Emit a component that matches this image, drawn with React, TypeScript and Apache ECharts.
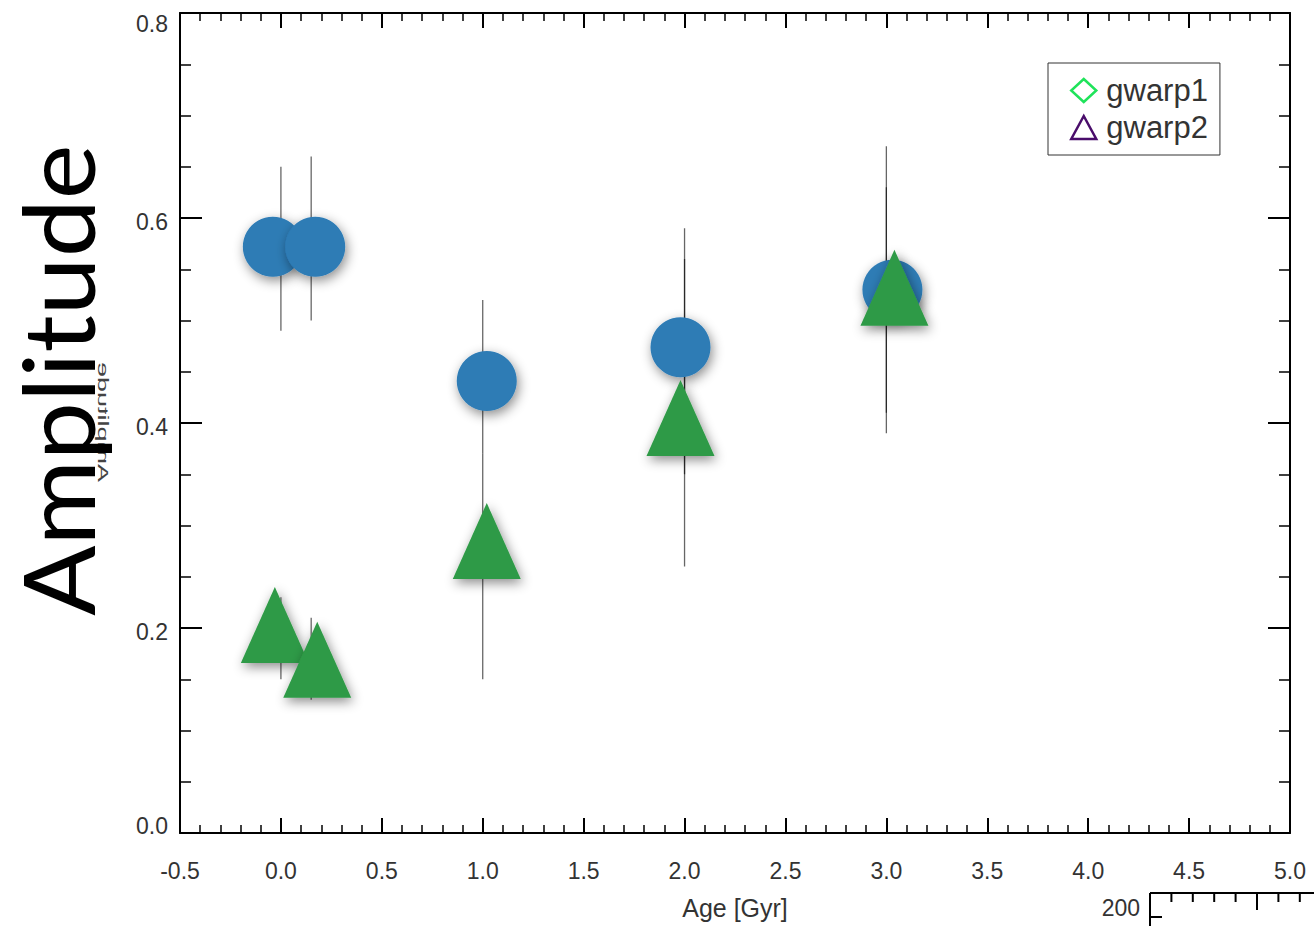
import React, { useEffect, useRef } from "react";
import * as echarts from "echarts";

// Age [Gyr] and amplitude of the blue circles
const circleAge = [-0.04, 0.17, 1.02, 1.98, 3.03];
const circleAmp = [0.572, 0.572, 0.441, 0.474, 0.53];
// Age [Gyr] and amplitude of the green triangles
const triangleAge = [-0.03, 0.18, 1.02, 1.98, 3.04];
const triangleAmp = [0.203, 0.169, 0.285, 0.405, 0.532];
// Error bars (vertical lines): age, low, high
const errAge = [0, 0, 0.15, 0.15, 1, 1, 2, 2, 3, 3];
const errLow = [0.49, 0.15, 0.5, 0.13, 0.37, 0.15, 0.26, 0.35, 0.39, 0.41];
const errHigh = [0.65, 0.23, 0.66, 0.21, 0.52, 0.37, 0.59, 0.56, 0.67, 0.63];
// Legend entries
const legendNames = ["gwarp1", "gwarp2"];
const yTitle = "Amplitude";
const xTitle = "Age [Gyr]";
const strayLabel = "200";

const FONT = "Liberation Sans, Arial, Helvetica, sans-serif";

function buildOption() {
  const axisLine = { show: true, onZero: false, lineStyle: { color: "#000", width: 2 } };
  const xCommon = {
    type: "value",
    min: -0.5,
    max: 5.0,
    interval: 0.5,
    axisLine,
    axisTick: { show: true, inside: true, length: 15, lineStyle: { color: "#000", width: 2 } },
    minorTick: { show: true, splitNumber: 5, length: 8, lineStyle: { color: "#000", width: 1.5 } },
    splitLine: { show: false },
    minorSplitLine: { show: false },
  };
  const yCommon = {
    type: "value",
    min: 0,
    max: 0.8,
    interval: 0.2,
    axisLine,
    axisTick: { show: true, inside: true, length: 22, lineStyle: { color: "#000", width: 2 } },
    minorTick: { show: true, splitNumber: 4, length: 11, lineStyle: { color: "#000", width: 1.5 } },
    splitLine: { show: false },
    minorSplitLine: { show: false },
  };

  const errData = errAge.map((a, i) => [a, errLow[i], errHigh[i]]);

  // stray partial axis at bottom-right
  const strayChildren: any[] = [];
  const sx0 = 1150;
  const sy0 = 893;
  const step = 21.4;
  strayChildren.push({
    type: "line",
    shape: { x1: sx0, y1: sy0, x2: 1314, y2: sy0 },
    style: { stroke: "#000", lineWidth: 2 },
  });
  strayChildren.push({
    type: "line",
    shape: { x1: sx0, y1: sy0, x2: sx0, y2: 926 },
    style: { stroke: "#000", lineWidth: 2 },
  });
  strayChildren.push({
    type: "line",
    shape: { x1: sx0, y1: 917, x2: sx0 + 12, y2: 917 },
    style: { stroke: "#000", lineWidth: 2 },
  });
  for (let i = 1; i <= 7; i++) {
    const x = sx0 + i * step;
    const len = i % 5 === 0 ? 17 : 9;
    strayChildren.push({
      type: "line",
      shape: { x1: x, y1: sy0, x2: x, y2: sy0 + len },
      style: { stroke: "#000", lineWidth: 2 },
    });
  }
  strayChildren.push({
    type: "text",
    x: 1140,
    y: 908,
    style: { text: strayLabel, fontSize: 23, fontFamily: FONT, fill: "#333", align: "right", verticalAlign: "middle" },
  });

  const lbl = { fontSize: 23, color: "#333", fontFamily: FONT };

  return {
    animation: false,
    backgroundColor: "#fff",
    grid: { left: 180, top: 13, right: 24, bottom: 93, containLabel: false },
    legend: {
      show: true,
      left: 1048,
      top: 63,
      orient: "vertical",
      selectedMode: false,
      borderColor: "#333",
      borderWidth: 1,
      padding: [12, 12, 12, 22],
      itemGap: 6,
      itemWidth: 25,
      itemHeight: 23,
      textStyle: { fontSize: 31, color: "#333", fontFamily: FONT, padding: [0, 0, 0, 5] },
      data: [
        {
          name: legendNames[0],
          icon: "diamond",
          itemStyle: { color: "rgba(0,0,0,0)", borderColor: "#1fe35a", borderWidth: 2.5, opacity: 1 },
        },
        {
          name: legendNames[1],
          icon: "triangle",
          itemStyle: { color: "rgba(0,0,0,0)", borderColor: "#4a0d6b", borderWidth: 2.5, opacity: 1 },
        },
      ],
    },
    xAxis: [
      {
        ...xCommon,
        position: "bottom",
        axisLabel: {
          show: true,
          margin: 26,
          ...lbl,
          formatter: (v: number) => v.toFixed(1),
        },
        name: xTitle,
        nameLocation: "middle",
        nameGap: 62,
        nameTextStyle: { fontSize: 25, color: "#333", fontFamily: FONT },
      },
      { ...xCommon, position: "top", axisLabel: { show: false } },
    ],
    yAxis: [
      {
        ...yCommon,
        position: "left",
        axisLabel: {
          show: true,
          margin: 12,
          ...lbl,
          formatter: (v: number) => {
            const t = v.toFixed(1);
            if (Math.abs(v - 0.8) < 1e-6) return "{top|" + t + "}";
            if (Math.abs(v) < 1e-6) return "{bot|" + t + "}";
            return "{n|" + t + "}";
          },
          rich: {
            top: { ...lbl, padding: [22, 0, 0, 0] },
            bot: { ...lbl, padding: [0, 0, 14, 0] },
            n: { ...lbl, padding: [8, 0, 0, 0] },
          },
        },
      },
      { ...yCommon, position: "right", axisLabel: { show: false } },
    ],
    series: [
      {
        type: "custom",
        name: "errors",
        xAxisIndex: 0,
        yAxisIndex: 0,
        z: 2,
        encode: { x: 0, y: [1, 2] },
        data: errData,
        renderItem: (params: any, api: any) => {
          const x = api.value(0);
          const p1 = api.coord([x, api.value(1)]);
          const p2 = api.coord([x, api.value(2)]);
          return {
            type: "line",
            shape: { x1: p1[0], y1: p1[1], x2: p2[0], y2: p2[1] },
            style: { stroke: "rgba(0,0,0,0.6)", lineWidth: 1.3 },
          };
        },
      },
      {
        type: "scatter",
        name: "circles",
        z: 3,
        symbol: "circle",
        symbolSize: 60,
        itemStyle: {
          color: "#2d7bb5",
          opacity: 1,
          shadowBlur: 12,
          shadowColor: "rgba(0,0,0,0.45)",
          shadowOffsetX: 2,
          shadowOffsetY: 4,
        },
        data: circleAge.map((a, i) => [a, circleAmp[i]]),
      },
      {
        type: "scatter",
        name: "triangles",
        z: 4,
        symbol: "triangle",
        symbolSize: [68, 76],
        itemStyle: {
          color: "#2e9a46",
          opacity: 1,
          shadowBlur: 12,
          shadowColor: "rgba(0,0,0,0.45)",
          shadowOffsetX: 2,
          shadowOffsetY: 4,
        },
        data: triangleAge.map((a, i) => [a, triangleAmp[i]]),
      },
      {
        type: "scatter",
        name: legendNames[0],
        symbol: "diamond",
        itemStyle: { color: "rgba(0,0,0,0)", borderColor: "#1fe35a", borderWidth: 2.5, opacity: 1 },
        data: [],
      },
      {
        type: "scatter",
        name: legendNames[1],
        symbol: "triangle",
        itemStyle: { color: "rgba(0,0,0,0)", borderColor: "#4a0d6b", borderWidth: 2.5, opacity: 1 },
        data: [],
      },
    ],
    graphic: [
      {
        type: "text",
        x: 57,
        y: 380,
        rotation: Math.PI / 2,
        scaleX: 1.06,
        z: 10,
        style: {
          text: yTitle,
          fontSize: 98,
          fontFamily: "Lato, Liberation Sans, sans-serif",
          fill: "#000",
          align: "center",
          verticalAlign: "middle",
        },
      },
      {
        type: "text",
        x: 103,
        y: 422,
        rotation: Math.PI / 2,
        scaleX: 1.8,
        scaleY: -1,
        z: 9,
        style: {
          text: yTitle,
          fontSize: 15,
          fontFamily: FONT,
          fill: "#444",
          align: "center",
          verticalAlign: "middle",
        },
      },
      { type: "group", children: strayChildren },
    ],
  };
}

export default function App() {
  const ref = useRef<HTMLDivElement>(null);
  useEffect(() => {
    document.body.style.margin = "0";
    const chart = echarts.init(ref.current as HTMLDivElement, null, { renderer: "svg" });
    chart.setOption(buildOption() as any);
    return () => {
      chart.dispose();
    };
  }, []);
  return <div ref={ref} style={{ width: 1314, height: 926 }} />;
}
